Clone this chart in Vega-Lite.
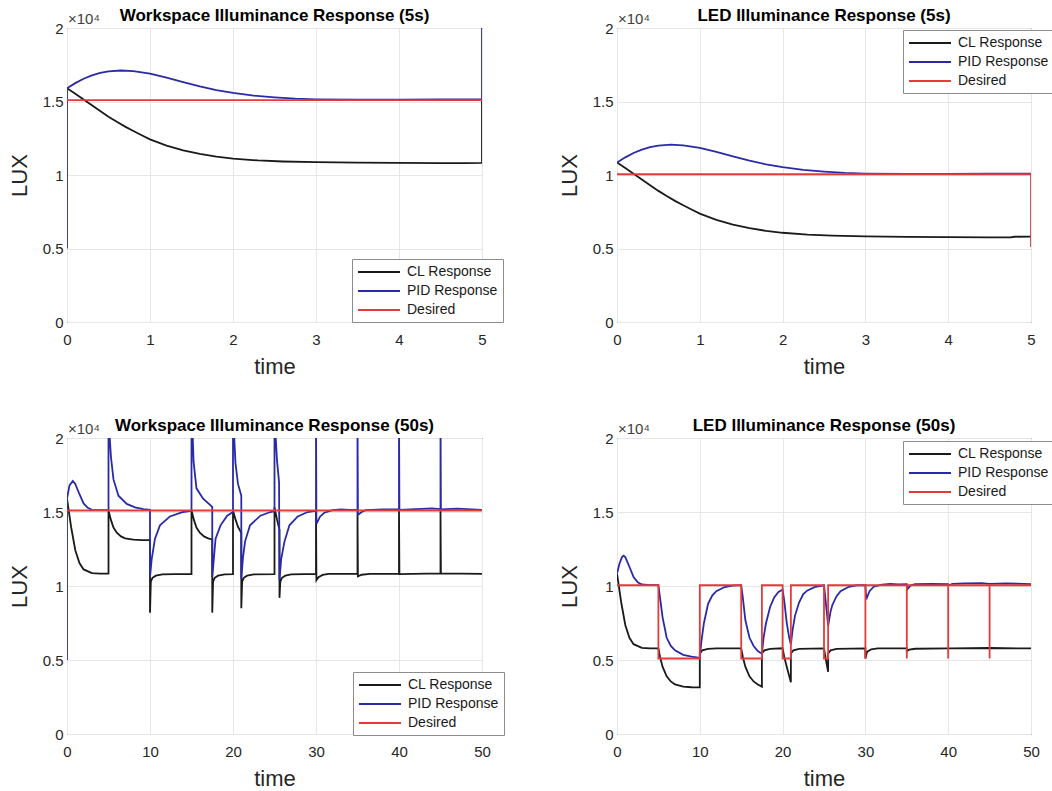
{
 "$schema": "https://vega.github.io/schema/vega-lite/v6.json",
 "padding": {"left": 7, "top": 6, "right": 2, "bottom": 2},
 "background": "white",
 "config": {
  "font": "Liberation Sans",
  "view": {"stroke": "#262626", "strokeWidth": 1},
  "axis": {"grid": true, "gridColor": "#e6e6e6", "gridWidth": 1, "domain": false, "ticks": false, "labelFont": "Liberation Sans", "labelFontSize": 15, "labelColor": "#262626", "labelFlush": false, "labelOverlap": false, "titleFont": "Liberation Sans", "titleFontSize": 22, "titleFontWeight": "normal", "titleColor": "#262626"},
  "axisX": {"labelPadding": 10, "titlePadding": 9, "format": "d"},
  "axisY": {"labelPadding": 4, "titlePadding": 11},
  "title": {"font": "Liberation Sans", "fontSize": 17, "fontWeight": "bold", "color": "#000000", "anchor": "middle", "frame": "group", "offset": -13, "baseline": "alphabetic"},
  "legend": {"orient": "none", "symbolType": "M-1,0H5", "symbolSize": 196, "symbolStrokeWidth": 2, "labelFont": "Liberation Sans", "labelFontSize": 14, "labelColor": "#1a1a1a", "labelOffset": 34, "padding": 5, "rowPadding": 4, "strokeColor": "#8c8c8c", "fillColor": "#ffffff"}
 },
 "datasets": {
  "p1": [
   {"s":"CL","t":0,"v":15900},{"s":"CL","t":0.1,"v":15520},{"s":"CL","t":0.2,"v":15130},{"s":"CL","t":0.3,"v":14740},{"s":"CL","t":0.4,"v":14350},{"s":"CL","t":0.5,"v":13970},{"s":"CL","t":0.6,"v":13620},{"s":"CL","t":0.7,"v":13290},{"s":"CL","t":0.8,"v":12990},{"s":"CL","t":0.9,"v":12700},{"s":"CL","t":1.0,"v":12420},{"s":"CL","t":1.2,"v":12000},{"s":"CL","t":1.4,"v":11680},{"s":"CL","t":1.6,"v":11430},{"s":"CL","t":1.8,"v":11250},{"s":"CL","t":2.0,"v":11120},{"s":"CL","t":2.3,"v":10990},{"s":"CL","t":2.6,"v":10920},{"s":"CL","t":3.0,"v":10870},{"s":"CL","t":3.5,"v":10840},{"s":"CL","t":4.0,"v":10820},{"s":"CL","t":4.5,"v":10810},{"s":"CL","t":4.8,"v":10810},{"s":"CL","t":5.0,"v":10830},{"s":"CL","t":5.0,"v":15100},
   {"s":"PID","t":0,"v":5000},{"s":"PID","t":0,"v":15900},{"s":"PID","t":0.1,"v":16250},{"s":"PID","t":0.2,"v":16550},{"s":"PID","t":0.3,"v":16780},{"s":"PID","t":0.4,"v":16950},{"s":"PID","t":0.5,"v":17050},{"s":"PID","t":0.65,"v":17110},{"s":"PID","t":0.8,"v":17070},{"s":"PID","t":1.0,"v":16900},{"s":"PID","t":1.2,"v":16620},{"s":"PID","t":1.4,"v":16320},{"s":"PID","t":1.6,"v":16030},{"s":"PID","t":1.8,"v":15780},{"s":"PID","t":2.0,"v":15580},{"s":"PID","t":2.25,"v":15400},{"s":"PID","t":2.5,"v":15280},{"s":"PID","t":2.75,"v":15190},{"s":"PID","t":3.0,"v":15150},{"s":"PID","t":3.5,"v":15130},{"s":"PID","t":4.0,"v":15120},{"s":"PID","t":4.5,"v":15140},{"s":"PID","t":5.0,"v":15150},{"s":"PID","t":5.0,"v":22000},
   {"s":"Des","t":0,"v":15100},{"s":"Des","t":5,"v":15100}
  ],
  "p2": [
   {"s":"CL","t":0,"v":10850},{"s":"CL","t":0.1,"v":10470},{"s":"CL","t":0.2,"v":10080},{"s":"CL","t":0.3,"v":9690},{"s":"CL","t":0.4,"v":9300},{"s":"CL","t":0.5,"v":8920},{"s":"CL","t":0.6,"v":8570},{"s":"CL","t":0.7,"v":8240},{"s":"CL","t":0.8,"v":7940},{"s":"CL","t":0.9,"v":7650},{"s":"CL","t":1.0,"v":7370},{"s":"CL","t":1.2,"v":6950},{"s":"CL","t":1.4,"v":6630},{"s":"CL","t":1.6,"v":6380},{"s":"CL","t":1.8,"v":6200},{"s":"CL","t":2.0,"v":6070},{"s":"CL","t":2.3,"v":5940},{"s":"CL","t":2.6,"v":5870},{"s":"CL","t":3.0,"v":5820},{"s":"CL","t":3.5,"v":5790},{"s":"CL","t":4.0,"v":5770},{"s":"CL","t":4.5,"v":5760},{"s":"CL","t":4.75,"v":5760},{"s":"CL","t":4.8,"v":5800},{"s":"CL","t":5.0,"v":5810},
   {"s":"PID","t":0,"v":10850},{"s":"PID","t":0.1,"v":11200},{"s":"PID","t":0.2,"v":11500},{"s":"PID","t":0.3,"v":11730},{"s":"PID","t":0.4,"v":11900},{"s":"PID","t":0.5,"v":12000},{"s":"PID","t":0.65,"v":12060},{"s":"PID","t":0.8,"v":12020},{"s":"PID","t":1.0,"v":11850},{"s":"PID","t":1.2,"v":11570},{"s":"PID","t":1.4,"v":11270},{"s":"PID","t":1.6,"v":10980},{"s":"PID","t":1.8,"v":10730},{"s":"PID","t":2.0,"v":10530},{"s":"PID","t":2.25,"v":10350},{"s":"PID","t":2.5,"v":10230},{"s":"PID","t":2.75,"v":10140},{"s":"PID","t":3.0,"v":10100},{"s":"PID","t":3.5,"v":10080},{"s":"PID","t":4.0,"v":10070},{"s":"PID","t":4.5,"v":10090},{"s":"PID","t":5.0,"v":10100},
   {"s":"Des","t":0,"v":10050},{"s":"Des","t":5,"v":10050},{"s":"Des","t":5,"v":5100}
  ],
  "p3": [
   {"s":"CL","t":0,"v":15900},{"s":"CL","t":0.5,"v":13970},{"s":"CL","t":1,"v":12420},{"s":"CL","t":1.5,"v":11550},{"s":"CL","t":2,"v":11120},{"s":"CL","t":3,"v":10870},{"s":"CL","t":4,"v":10830},{"s":"CL","t":5,"v":10830},{"s":"CL","t":5,"v":15100},{"s":"CL","t":5.3,"v":14450},{"s":"CL","t":5.6,"v":13950},{"s":"CL","t":6,"v":13600},{"s":"CL","t":6.5,"v":13350},{"s":"CL","t":7,"v":13220},{"s":"CL","t":8,"v":13130},{"s":"CL","t":9,"v":13100},{"s":"CL","t":10,"v":13100},{"s":"CL","t":10,"v":8200},{"s":"CL","t":10.1,"v":10300},{"s":"CL","t":10.3,"v":10550},{"s":"CL","t":10.7,"v":10700},{"s":"CL","t":11.5,"v":10780},{"s":"CL","t":13,"v":10800},{"s":"CL","t":15,"v":10810},{"s":"CL","t":15,"v":15100},{"s":"CL","t":15.3,"v":14450},{"s":"CL","t":15.6,"v":13950},{"s":"CL","t":16,"v":13600},{"s":"CL","t":16.5,"v":13350},{"s":"CL","t":17,"v":13220},{"s":"CL","t":17.5,"v":13150},{"s":"CL","t":17.5,"v":8200},{"s":"CL","t":17.6,"v":10300},{"s":"CL","t":17.8,"v":10550},{"s":"CL","t":18.2,"v":10700},{"s":"CL","t":19,"v":10780},{"s":"CL","t":20,"v":10800},{"s":"CL","t":20,"v":15100},{"s":"CL","t":20.3,"v":14500},{"s":"CL","t":20.6,"v":14000},{"s":"CL","t":21,"v":13600},{"s":"CL","t":21,"v":8500},{"s":"CL","t":21.1,"v":10300},{"s":"CL","t":21.3,"v":10550},{"s":"CL","t":21.7,"v":10700},{"s":"CL","t":22.5,"v":10780},{"s":"CL","t":25,"v":10800},{"s":"CL","t":25,"v":15300},{"s":"CL","t":25.3,"v":14500},{"s":"CL","t":25.6,"v":13800},{"s":"CL","t":25.6,"v":9200},{"s":"CL","t":25.7,"v":10300},{"s":"CL","t":25.9,"v":10550},{"s":"CL","t":26.3,"v":10700},{"s":"CL","t":27,"v":10780},{"s":"CL","t":30,"v":10820},{"s":"CL","t":30,"v":15100},{"s":"CL","t":30.05,"v":10400},{"s":"CL","t":30.3,"v":10600},{"s":"CL","t":30.8,"v":10750},{"s":"CL","t":31.5,"v":10820},{"s":"CL","t":35,"v":10830},{"s":"CL","t":35,"v":15100},{"s":"CL","t":35.05,"v":10650},{"s":"CL","t":35.5,"v":10760},{"s":"CL","t":36.5,"v":10820},{"s":"CL","t":40,"v":10830},{"s":"CL","t":40,"v":15100},{"s":"CL","t":40.05,"v":10800},{"s":"CL","t":45,"v":10850},{"s":"CL","t":45,"v":15100},{"s":"CL","t":45.05,"v":10850},{"s":"CL","t":50,"v":10820},
   {"s":"PID","t":0,"v":5000},{"s":"PID","t":0,"v":15900},{"s":"PID","t":0.3,"v":16800},{"s":"PID","t":0.7,"v":17100},{"s":"PID","t":1,"v":16900},{"s":"PID","t":1.5,"v":16200},{"s":"PID","t":2,"v":15580},{"s":"PID","t":2.5,"v":15280},{"s":"PID","t":3,"v":15150},{"s":"PID","t":4,"v":15120},{"s":"PID","t":5,"v":15130},{"s":"PID","t":5,"v":22000},{"s":"PID","t":5.15,"v":20000},{"s":"PID","t":5.3,"v":18700},{"s":"PID","t":5.6,"v":17200},{"s":"PID","t":6.2,"v":16100},{"s":"PID","t":7.2,"v":15550},{"s":"PID","t":8.2,"v":15320},{"s":"PID","t":9.2,"v":15200},{"s":"PID","t":10,"v":15150},{"s":"PID","t":10,"v":10600},{"s":"PID","t":10.2,"v":11800},{"s":"PID","t":10.6,"v":13200},{"s":"PID","t":11.2,"v":14100},{"s":"PID","t":12.4,"v":14700},{"s":"PID","t":14,"v":15000},{"s":"PID","t":15,"v":15080},{"s":"PID","t":15,"v":22000},{"s":"PID","t":15.15,"v":20000},{"s":"PID","t":15.25,"v":18400},{"s":"PID","t":15.6,"v":16600},{"s":"PID","t":16.4,"v":15900},{"s":"PID","t":17.5,"v":15350},{"s":"PID","t":17.5,"v":10600},{"s":"PID","t":17.7,"v":11900},{"s":"PID","t":17.9,"v":13200},{"s":"PID","t":18.5,"v":14100},{"s":"PID","t":19.3,"v":14750},{"s":"PID","t":20,"v":15000},{"s":"PID","t":20,"v":22000},{"s":"PID","t":20.15,"v":20000},{"s":"PID","t":20.3,"v":18300},{"s":"PID","t":20.6,"v":16900},{"s":"PID","t":21,"v":16100},{"s":"PID","t":21,"v":10500},{"s":"PID","t":21.2,"v":11900},{"s":"PID","t":21.45,"v":13000},{"s":"PID","t":22.05,"v":14100},{"s":"PID","t":23.3,"v":14750},{"s":"PID","t":24.5,"v":15000},{"s":"PID","t":25,"v":15050},{"s":"PID","t":25,"v":22000},{"s":"PID","t":25.15,"v":20000},{"s":"PID","t":25.3,"v":18500},{"s":"PID","t":25.55,"v":17000},{"s":"PID","t":25.6,"v":10400},{"s":"PID","t":25.8,"v":11800},{"s":"PID","t":26.2,"v":13000},{"s":"PID","t":26.8,"v":14100},{"s":"PID","t":27.8,"v":14700},{"s":"PID","t":29,"v":15000},{"s":"PID","t":30,"v":15080},{"s":"PID","t":30,"v":22000},{"s":"PID","t":30.05,"v":14200},{"s":"PID","t":30.5,"v":14700},{"s":"PID","t":31,"v":14950},{"s":"PID","t":32,"v":15120},{"s":"PID","t":33,"v":15180},{"s":"PID","t":34,"v":15150},{"s":"PID","t":35,"v":15160},{"s":"PID","t":35,"v":22000},{"s":"PID","t":35.05,"v":14800},{"s":"PID","t":35.5,"v":15000},{"s":"PID","t":36,"v":15130},{"s":"PID","t":38,"v":15180},{"s":"PID","t":40,"v":15200},{"s":"PID","t":40,"v":22000},{"s":"PID","t":40.05,"v":15150},{"s":"PID","t":42,"v":15200},{"s":"PID","t":44,"v":15250},{"s":"PID","t":45,"v":15200},{"s":"PID","t":45,"v":22000},{"s":"PID","t":45.05,"v":15180},{"s":"PID","t":47,"v":15230},{"s":"PID","t":50,"v":15150},
   {"s":"Des","t":0,"v":15100},{"s":"Des","t":50,"v":15100}
  ],
  "p4": [
   {"s":"CL","t":0,"v":10850},{"s":"CL","t":0.5,"v":8920},{"s":"CL","t":1,"v":7370},{"s":"CL","t":1.5,"v":6500},{"s":"CL","t":2,"v":6070},{"s":"CL","t":3,"v":5820},{"s":"CL","t":4,"v":5780},{"s":"CL","t":5,"v":5780},{"s":"CL","t":5.2,"v":5200},{"s":"CL","t":5.5,"v":4550},{"s":"CL","t":6,"v":3900},{"s":"CL","t":6.5,"v":3550},{"s":"CL","t":7,"v":3350},{"s":"CL","t":8,"v":3200},{"s":"CL","t":9,"v":3160},{"s":"CL","t":10,"v":3150},{"s":"CL","t":10,"v":5450},{"s":"CL","t":10.3,"v":5650},{"s":"CL","t":11,"v":5750},{"s":"CL","t":12,"v":5780},{"s":"CL","t":15,"v":5790},{"s":"CL","t":15.2,"v":5200},{"s":"CL","t":15.5,"v":4550},{"s":"CL","t":16,"v":3900},{"s":"CL","t":16.5,"v":3550},{"s":"CL","t":17,"v":3350},{"s":"CL","t":17.5,"v":3200},{"s":"CL","t":17.5,"v":5450},{"s":"CL","t":17.8,"v":5650},{"s":"CL","t":18.5,"v":5750},{"s":"CL","t":20,"v":5790},{"s":"CL","t":20.2,"v":5200},{"s":"CL","t":20.5,"v":4550},{"s":"CL","t":21,"v":3500},{"s":"CL","t":21,"v":5450},{"s":"CL","t":21.3,"v":5650},{"s":"CL","t":22,"v":5750},{"s":"CL","t":25,"v":5780},{"s":"CL","t":25.2,"v":5100},{"s":"CL","t":25.5,"v":4200},{"s":"CL","t":25.5,"v":5450},{"s":"CL","t":25.8,"v":5650},{"s":"CL","t":26.5,"v":5750},{"s":"CL","t":30,"v":5790},{"s":"CL","t":30,"v":5100},{"s":"CL","t":30.2,"v":5550},{"s":"CL","t":30.7,"v":5720},{"s":"CL","t":31.5,"v":5780},{"s":"CL","t":35,"v":5790},{"s":"CL","t":35,"v":5600},{"s":"CL","t":35.3,"v":5700},{"s":"CL","t":36,"v":5760},{"s":"CL","t":40,"v":5790},{"s":"CL","t":40.5,"v":5780},{"s":"CL","t":45,"v":5810},{"s":"CL","t":50,"v":5780},
   {"s":"PID","t":0,"v":10850},{"s":"PID","t":0.3,"v":11500},{"s":"PID","t":0.6,"v":11950},{"s":"PID","t":0.8,"v":12050},{"s":"PID","t":1,"v":11950},{"s":"PID","t":1.5,"v":11300},{"s":"PID","t":2,"v":10600},{"s":"PID","t":2.5,"v":10250},{"s":"PID","t":3,"v":10100},{"s":"PID","t":4,"v":10060},{"s":"PID","t":5,"v":10060},{"s":"PID","t":5.2,"v":9200},{"s":"PID","t":5.5,"v":7900},{"s":"PID","t":6,"v":6500},{"s":"PID","t":6.5,"v":5950},{"s":"PID","t":7,"v":5650},{"s":"PID","t":8,"v":5350},{"s":"PID","t":9,"v":5230},{"s":"PID","t":10,"v":5150},{"s":"PID","t":10.2,"v":6300},{"s":"PID","t":10.5,"v":7500},{"s":"PID","t":11,"v":8800},{"s":"PID","t":11.5,"v":9350},{"s":"PID","t":12,"v":9650},{"s":"PID","t":13,"v":9930},{"s":"PID","t":14,"v":10030},{"s":"PID","t":15,"v":10060},{"s":"PID","t":15.2,"v":9200},{"s":"PID","t":15.5,"v":7700},{"s":"PID","t":16,"v":6500},{"s":"PID","t":16.5,"v":5950},{"s":"PID","t":17,"v":5600},{"s":"PID","t":17.5,"v":5420},{"s":"PID","t":17.7,"v":6500},{"s":"PID","t":18,"v":7500},{"s":"PID","t":18.5,"v":8600},{"s":"PID","t":19,"v":9250},{"s":"PID","t":19.5,"v":9600},{"s":"PID","t":20,"v":9750},{"s":"PID","t":20.2,"v":9000},{"s":"PID","t":20.5,"v":7500},{"s":"PID","t":20.8,"v":6500},{"s":"PID","t":21,"v":6050},{"s":"PID","t":21.2,"v":7000},{"s":"PID","t":21.5,"v":8000},{"s":"PID","t":22,"v":8900},{"s":"PID","t":22.5,"v":9450},{"s":"PID","t":23,"v":9700},{"s":"PID","t":24,"v":9950},{"s":"PID","t":25,"v":10050},{"s":"PID","t":25.2,"v":9000},{"s":"PID","t":25.5,"v":7300},{"s":"PID","t":25.8,"v":8300},{"s":"PID","t":26,"v":8700},{"s":"PID","t":26.5,"v":9300},{"s":"PID","t":27,"v":9650},{"s":"PID","t":28,"v":9950},{"s":"PID","t":29,"v":10050},{"s":"PID","t":30,"v":10060},{"s":"PID","t":30.1,"v":9100},{"s":"PID","t":30.5,"v":9650},{"s":"PID","t":31,"v":9950},{"s":"PID","t":32,"v":10100},{"s":"PID","t":33,"v":10150},{"s":"PID","t":34,"v":10100},{"s":"PID","t":35,"v":10120},{"s":"PID","t":35.1,"v":9800},{"s":"PID","t":35.5,"v":10050},{"s":"PID","t":36,"v":10130},{"s":"PID","t":38,"v":10150},{"s":"PID","t":40,"v":10120},{"s":"PID","t":40.1,"v":10050},{"s":"PID","t":40.5,"v":10150},{"s":"PID","t":42,"v":10180},{"s":"PID","t":44,"v":10200},{"s":"PID","t":45,"v":10150},{"s":"PID","t":47,"v":10180},{"s":"PID","t":50,"v":10120},
   {"s":"Des","t":0,"v":10050},{"s":"Des","t":5,"v":10050},{"s":"Des","t":5,"v":5100},{"s":"Des","t":10,"v":5100},{"s":"Des","t":10,"v":10050},{"s":"Des","t":15,"v":10050},{"s":"Des","t":15,"v":5100},{"s":"Des","t":17.5,"v":5100},{"s":"Des","t":17.5,"v":10050},{"s":"Des","t":20,"v":10050},{"s":"Des","t":20,"v":5100},{"s":"Des","t":21,"v":5100},{"s":"Des","t":21,"v":10050},{"s":"Des","t":25,"v":10050},{"s":"Des","t":25,"v":5100},{"s":"Des","t":25.5,"v":5100},{"s":"Des","t":25.5,"v":10050},{"s":"Des","t":30,"v":10050},{"s":"Des","t":30,"v":5100},{"s":"Des","t":30,"v":10050},{"s":"Des","t":35,"v":10050},{"s":"Des","t":35,"v":5100},{"s":"Des","t":35,"v":10050},{"s":"Des","t":40,"v":10050},{"s":"Des","t":40,"v":5100},{"s":"Des","t":40,"v":10050},{"s":"Des","t":45,"v":10050},{"s":"Des","t":45,"v":5100},{"s":"Des","t":45,"v":10050},{"s":"Des","t":50,"v":10050}
  ]
 },
 "columns": 2,
 "spacing": {"row": 116, "column": 135},
 "bounds": "flush",
 "resolve": {"scale": {"x": "independent", "y": "independent", "color": "independent"}, "legend": {"color": "independent"}},
 "concat": [
  {
   "width": 415, "height": 294,
   "title": "Workspace Illuminance Response (5s)",
   "layer": [
    {"data": {"name": "p1"}, "mark": {"type": "line", "strokeWidth": 1.8, "clip": true},
     "encoding": {
      "x": {"field": "t", "type": "quantitative", "scale": {"domain": [0, 5], "nice": false}, "axis": {"values": [0,1,2,3,4,5], "title": "time"}},
      "y": {"field": "v", "type": "quantitative", "scale": {"domain": [0, 20000], "nice": false}, "axis": {"values": [0,5000,10000,15000,20000], "labelExpr": "datum.value / 10000", "title": "LUX"}},
      "color": {"field": "s", "type": "nominal", "scale": {"domain": ["CL","PID","Des"], "range": ["#1a1a1a","#2a2aa8","#e23b3b"]}, "legend": {"title": null, "legendX": 285, "legendY": 231, "labelExpr": "datum.label == 'CL' ? 'CL Response' : datum.label == 'PID' ? 'PID Response' : 'Desired'"}},
      "order": {"value": null}
     }},
    {"data": {"values": [{"lab": "×10⁴"}]}, "mark": {"type": "text", "align": "left", "baseline": "alphabetic", "dx": 1, "dy": -4, "fontSize": 15, "color": "#404040"},
     "encoding": {"x": {"datum": 0}, "y": {"datum": 20000}, "text": {"field": "lab"}}}
   ]
  },
  {
   "width": 414, "height": 294,
   "title": "LED Illuminance Response (5s)",
   "layer": [
    {"data": {"name": "p2"}, "mark": {"type": "line", "strokeWidth": 1.8, "clip": true},
     "encoding": {
      "x": {"field": "t", "type": "quantitative", "scale": {"domain": [0, 5], "nice": false}, "axis": {"values": [0,1,2,3,4,5], "title": "time"}},
      "y": {"field": "v", "type": "quantitative", "scale": {"domain": [0, 20000], "nice": false}, "axis": {"values": [0,5000,10000,15000,20000], "labelExpr": "datum.value / 10000", "title": "LUX"}},
      "color": {"field": "s", "type": "nominal", "scale": {"domain": ["CL","PID","Des"], "range": ["#1a1a1a","#2a2aa8","#e23b3b"]}, "legend": {"title": null, "legendX": 286, "legendY": 2, "labelExpr": "datum.label == 'CL' ? 'CL Response' : datum.label == 'PID' ? 'PID Response' : 'Desired'"}},
      "order": {"value": null}
     }},
    {"data": {"values": [{"lab": "×10⁴"}]}, "mark": {"type": "text", "align": "left", "baseline": "alphabetic", "dx": 1, "dy": -4, "fontSize": 15, "color": "#404040"},
     "encoding": {"x": {"datum": 0}, "y": {"datum": 20000}, "text": {"field": "lab"}}}
   ]
  },
  {
   "width": 415, "height": 296,
   "title": "Workspace Illuminance Response (50s)",
   "layer": [
    {"data": {"name": "p3"}, "mark": {"type": "line", "strokeWidth": 1.8, "clip": true},
     "encoding": {
      "x": {"field": "t", "type": "quantitative", "scale": {"domain": [0, 50], "nice": false}, "axis": {"values": [0,10,20,30,40,50], "title": "time"}},
      "y": {"field": "v", "type": "quantitative", "scale": {"domain": [0, 20000], "nice": false}, "axis": {"values": [0,5000,10000,15000,20000], "labelExpr": "datum.value / 10000", "title": "LUX"}},
      "color": {"field": "s", "type": "nominal", "scale": {"domain": ["CL","PID","Des"], "range": ["#1a1a1a","#2a2aa8","#e23b3b"]}, "legend": {"title": null, "legendX": 286, "legendY": 234, "labelExpr": "datum.label == 'CL' ? 'CL Response' : datum.label == 'PID' ? 'PID Response' : 'Desired'"}},
      "order": {"value": null}
     }},
    {"data": {"values": [{"lab": "×10⁴"}]}, "mark": {"type": "text", "align": "left", "baseline": "alphabetic", "dx": 1, "dy": -4, "fontSize": 15, "color": "#404040"},
     "encoding": {"x": {"datum": 0}, "y": {"datum": 20000}, "text": {"field": "lab"}}}
   ]
  },
  {
   "width": 414, "height": 296,
   "title": "LED Illuminance Response (50s)",
   "layer": [
    {"data": {"name": "p4"}, "mark": {"type": "line", "strokeWidth": 1.8, "clip": true},
     "encoding": {
      "x": {"field": "t", "type": "quantitative", "scale": {"domain": [0, 50], "nice": false}, "axis": {"values": [0,10,20,30,40,50], "title": "time"}},
      "y": {"field": "v", "type": "quantitative", "scale": {"domain": [0, 20000], "nice": false}, "axis": {"values": [0,5000,10000,15000,20000], "labelExpr": "datum.value / 10000", "title": "LUX"}},
      "color": {"field": "s", "type": "nominal", "scale": {"domain": ["CL","PID","Des"], "range": ["#1a1a1a","#2a2aa8","#e23b3b"]}, "legend": {"title": null, "legendX": 286, "legendY": 3, "labelExpr": "datum.label == 'CL' ? 'CL Response' : datum.label == 'PID' ? 'PID Response' : 'Desired'"}},
      "order": {"value": null}
     }},
    {"data": {"values": [{"lab": "×10⁴"}]}, "mark": {"type": "text", "align": "left", "baseline": "alphabetic", "dx": 1, "dy": -4, "fontSize": 15, "color": "#404040"},
     "encoding": {"x": {"datum": 0}, "y": {"datum": 20000}, "text": {"field": "lab"}}}
   ]
  }
 ]
}
